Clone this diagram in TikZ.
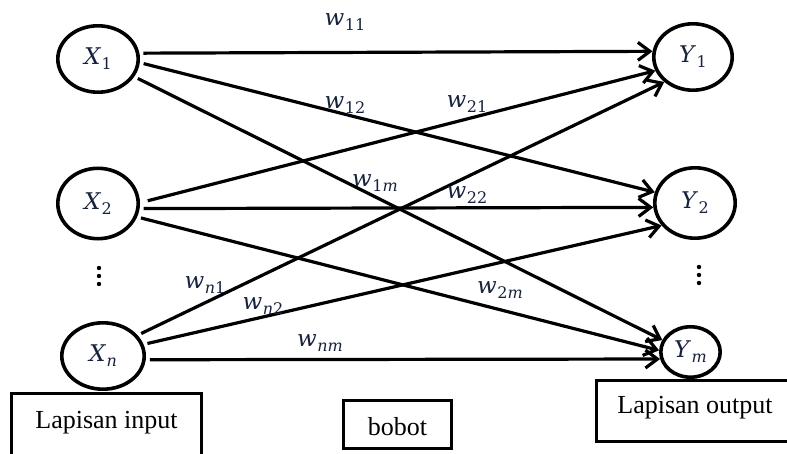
\documentclass[tikz,border=0pt]{standalone}
\usepackage{fontspec}
\setmainfont{Liberation Serif}
\newfontfamily\eqfont{DejaVu Serif}
\usetikzlibrary{arrows.meta,shapes.geometric}
\definecolor{mathink}{HTML}{17223D}
\newcommand\eqmain{\fontsize{23}{27}\selectfont\eqfont\itshape}
\newcommand\eqsub{\fontsize{16}{18}\selectfont\eqfont\upshape}
% variable with a lowered index, e.g. \idx{X}{1}
\newcommand\idx[2]{{\eqmain #1\/}\kern0.5pt\lower5pt\hbox{\eqsub #2}}
\newcommand\boxsize{\fontsize{26}{30}\selectfont}
\begin{document}
\begin{tikzpicture}[x=1pt,y=-1pt,
  neuron/.style={ellipse, draw, line width=3.6pt, inner sep=0pt, text=mathink},
  link/.style={line width=3.2pt, -{Straight Barb[length=12pt,width=18pt]}, shorten <=4pt},
  wlabel/.style={text=mathink, inner sep=0pt},
  layerbox/.style={draw, line width=3.3pt, rectangle, inner sep=0pt, anchor=base, font=\boxsize}
]
\useasboundingbox (0,0) rectangle (787,454);
\clip (0,0) rectangle (787,454);

% input layer
\node[neuron, minimum width=80.4pt, minimum height=66.4pt] (x1) at (98,59) {\idx{X}{1}};
\node[neuron, minimum width=80.4pt, minimum height=70.4pt] (x2) at (98,203.5) {\idx{X}{2}};
\node[neuron, minimum width=82.4pt, minimum height=66.4pt] (xn) at (103,356) {\idx{X}{\itshape n}};

% output layer
\node[neuron, minimum width=78.4pt, minimum height=66.4pt] (y1) at (693,57) {\idx{Y}{1}};
\node[neuron, minimum width=80.4pt, minimum height=70.4pt] (y2) at (695,203) {\idx{Y}{2}};
\node[neuron, minimum width=59.4pt, minimum height=50.4pt] (ym) at (690.5,352) {\idx{Y}{\itshape m}};

% vertical ellipses between the second and last neuron
\foreach \yy in {268,276,284} {
  \fill (99,\yy) circle (2.2pt);
  \fill (699,\yy-1) circle (2.2pt);
}

% weighted connections
\draw[link] (x1.8.7) -- (y1.172.5);
\draw[link] (x1.-5) -- (y2.165.3);
\draw[link] (x1.-26.6) -- (ym.157.2);
\draw[link, shorten <=8pt] (x2.1.7) -- (y1.200.4);
\draw[link] (x2.-7) -- (y2.186.8);
\draw[link] (x2.-19) -- (ym.177);
\draw[link] (xn.31.9) -- (y1.221.5);
\draw[link] (xn.16) -- (y2.214);
\draw[link] (xn.-5) -- (ym.193.6);

% weight labels
\node[wlabel] (w11) at (345,22) {\idx{w}{11}};
\node[wlabel] (w12) at (345,105) {\idx{w}{12}};
\node[wlabel] (w21) at (467,104) {\idx{w}{21}};
\node[wlabel] (w1m) at (375,183) {\idx{w}{1\itshape m}};
\node[wlabel] (w22) at (467,195) {\idx{w}{22}};
\node[wlabel] (wn1) at (205,285) {\idx{w}{\itshape n\upshape 1}};
\node[wlabel] (wn2) at (263,306) {\idx{w}{\itshape n\upshape 2}};
\node[wlabel] (w2m) at (500,290) {\idx{w}{2\itshape m}};
\node[wlabel] (wnm) at (320,343) {\idx{w}{\itshape nm}};

% layer captions
\node[layerbox, minimum width=190pt, text height=34.5pt, text depth=36pt] (inbox) at (106.5,428) {Lapisan input};
\node[layerbox, minimum width=108pt, text height=34.5pt, text depth=13.5pt] (wbox) at (397.5,435) {bobot};
\node[layerbox, minimum width=197pt, text height=32.5pt, text depth=28.5pt] (outbox) at (695,413) {Lapisan output};
\end{tikzpicture}
\end{document}
